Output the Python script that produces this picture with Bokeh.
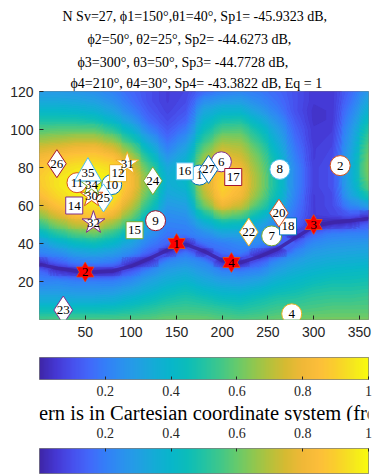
import numpy as np
from bokeh.plotting import figure
from bokeh.layouts import column
from bokeh.models import LinearColorMapper, Range1d, FixedTicker, Title
from bokeh.embed import file_html
from bokeh.resources import INLINE
from bokeh.core.properties import value

# ---------------- data ----------------
# normalised pattern: one list per phi column, values on theta rows 0,5,...,120
# (in each column the row nearest to the null curve sits on the null curve itself, at null_curve_theta)
pattern_phi = [0, 20, 40, 60, 80, 100, 120, 140, 160, 180, 200, 220, 240, 260, 280, 300, 320, 340, 360]
pattern_theta = [0, 5, 10, 15, 20, 25, 30, 35, 40, 45, 50, 55, 60, 65, 70, 75, 80, 85, 90, 95, 100, 105, 110, 115, 120]
null_curve_theta = [29, 27, 25.5, 25, 25.5, 28, 32, 36.5, 39.5, 36, 31, 30, 33, 37, 43, 49, 51, 52, 53]
gain_p000 = [0.55, 0.45, 0.35, 0.28, 0.21, 0.16, 0.00, 0.21, 0.27, 0.40, 0.53, 0.65, 0.76, 0.84, 0.88, 0.89, 0.87, 0.82, 0.75, 0.66, 0.57, 0.48, 0.40, 0.33, 0.28]
gain_p020 = [0.56, 0.45, 0.35, 0.28, 0.22, 0.00, 0.13, 0.24, 0.36, 0.50, 0.64, 0.76, 0.86, 0.92, 0.95, 0.95, 0.92, 0.86, 0.78, 0.68, 0.58, 0.48, 0.40, 0.33, 0.28]
gain_p040 = [0.56, 0.45, 0.35, 0.27, 0.20, 0.00, 0.19, 0.30, 0.42, 0.57, 0.72, 0.85, 0.93, 0.97, 0.99, 0.98, 0.95, 0.89, 0.81, 0.70, 0.58, 0.48, 0.39, 0.32, 0.27]
gain_p060 = [0.56, 0.45, 0.35, 0.27, 0.20, 0.00, 0.21, 0.32, 0.45, 0.60, 0.75, 0.88, 0.95, 0.99, 1.00, 0.99, 0.96, 0.90, 0.82, 0.70, 0.58, 0.46, 0.37, 0.30, 0.25]
gain_p080 = [0.56, 0.46, 0.36, 0.28, 0.20, 0.00, 0.19, 0.29, 0.40, 0.52, 0.66, 0.80, 0.90, 0.96, 0.98, 0.97, 0.93, 0.86, 0.76, 0.64, 0.51, 0.39, 0.31, 0.25, 0.21]
gain_p100 = [0.57, 0.48, 0.40, 0.32, 0.24, 0.13, 0.00, 0.23, 0.31, 0.40, 0.52, 0.63, 0.72, 0.79, 0.83, 0.83, 0.79, 0.71, 0.61, 0.49, 0.38, 0.28, 0.21, 0.17, 0.15]
gain_p120 = [0.58, 0.51, 0.44, 0.37, 0.31, 0.23, 0.00, 0.13, 0.20, 0.26, 0.32, 0.41, 0.50, 0.57, 0.61, 0.61, 0.56, 0.48, 0.39, 0.30, 0.21, 0.15, 0.12, 0.10, 0.10]
gain_p140 = [0.60, 0.54, 0.48, 0.42, 0.36, 0.30, 0.23, 0.00, 0.14, 0.18, 0.21, 0.24, 0.28, 0.32, 0.35, 0.36, 0.33, 0.27, 0.21, 0.16, 0.12, 0.09, 0.07, 0.06, 0.06]
gain_p160 = [0.60, 0.55, 0.50, 0.45, 0.39, 0.33, 0.26, 0.18, 0.00, 0.19, 0.22, 0.26, 0.30, 0.35, 0.39, 0.41, 0.40, 0.36, 0.31, 0.25, 0.19, 0.14, 0.11, 0.09, 0.08]
gain_p180 = [0.60, 0.54, 0.48, 0.41, 0.34, 0.28, 0.22, 0.00, 0.17, 0.24, 0.34, 0.47, 0.61, 0.69, 0.73, 0.74, 0.71, 0.66, 0.59, 0.51, 0.44, 0.38, 0.32, 0.24, 0.16]
gain_p200 = [0.58, 0.52, 0.45, 0.38, 0.30, 0.22, 0.00, 0.16, 0.20, 0.31, 0.44, 0.62, 0.80, 0.88, 0.91, 0.90, 0.86, 0.80, 0.73, 0.65, 0.56, 0.47, 0.38, 0.28, 0.20]
gain_p220 = [0.57, 0.50, 0.44, 0.37, 0.29, 0.20, 0.00, 0.19, 0.23, 0.31, 0.42, 0.58, 0.73, 0.81, 0.84, 0.83, 0.80, 0.75, 0.70, 0.64, 0.57, 0.48, 0.38, 0.29, 0.22]
gain_p240 = [0.58, 0.52, 0.47, 0.40, 0.32, 0.23, 0.13, 0.00, 0.23, 0.27, 0.33, 0.44, 0.56, 0.63, 0.66, 0.66, 0.64, 0.61, 0.57, 0.51, 0.45, 0.37, 0.29, 0.23, 0.19]
gain_p260 = [0.60, 0.55, 0.50, 0.44, 0.38, 0.31, 0.24, 0.00, 0.13, 0.18, 0.22, 0.29, 0.38, 0.44, 0.46, 0.46, 0.45, 0.42, 0.38, 0.34, 0.30, 0.25, 0.20, 0.17, 0.15]
gain_p280 = [0.61, 0.56, 0.51, 0.46, 0.41, 0.36, 0.30, 0.22, 0.13, 0.00, 0.15, 0.17, 0.19, 0.21, 0.22, 0.22, 0.22, 0.20, 0.18, 0.16, 0.14, 0.12, 0.10, 0.10, 0.10]
gain_p300 = [0.62, 0.57, 0.53, 0.49, 0.44, 0.39, 0.34, 0.29, 0.23, 0.15, 0.00, 0.06, 0.06, 0.06, 0.07, 0.07, 0.07, 0.06, 0.06, 0.05, 0.05, 0.04, 0.04, 0.05, 0.05]
gain_p320 = [0.62, 0.58, 0.54, 0.50, 0.46, 0.41, 0.36, 0.31, 0.26, 0.20, 0.00, 0.08, 0.09, 0.09, 0.10, 0.10, 0.10, 0.09, 0.08, 0.07, 0.06, 0.05, 0.05, 0.05, 0.05]
gain_p340 = [0.62, 0.58, 0.54, 0.50, 0.46, 0.42, 0.37, 0.32, 0.27, 0.21, 0.00, 0.12, 0.22, 0.30, 0.33, 0.34, 0.34, 0.32, 0.30, 0.28, 0.26, 0.23, 0.20, 0.17, 0.15]
gain_p360 = [0.62, 0.58, 0.55, 0.51, 0.47, 0.43, 0.38, 0.33, 0.28, 0.21, 0.13, 0.00, 0.30, 0.48, 0.58, 0.62, 0.63, 0.62, 0.59, 0.55, 0.50, 0.44, 0.38, 0.33, 0.28]
pattern_cols = [gain_p000, gain_p020, gain_p040, gain_p060, gain_p080, gain_p100, gain_p120, gain_p140,
                gain_p160, gain_p180, gain_p200, gain_p220, gain_p240, gain_p260, gain_p280, gain_p300,
                gain_p320, gain_p340, gain_p360]

# null directions (red hexagrams)
null_id = ["1", "2", "3", "4"]
null_phi = [150, 50, 300, 210]
null_theta = [40, 25, 50, 30]

# numbered steering vectors
circ_id = ["1", "2", "4", "6", "7", "8", "9", "10", "11"]
circ_phi = [175, 329, 276, 199, 254, 263, 127, 79, 41]
circ_theta = [76, 81, 3, 83, 44, 79, 52, 71, 72]

sq_id = ["12", "14", "15", "16", "17", "18"]
sq_phi = [86, 38, 104, 159, 212, 272]
sq_theta = [77, 60, 47, 78, 75, 49]

dia_id = ["20", "22", "23", "24", "25", "26", "27"]
dia_phi = [262, 229, 26, 124, 70, 19, 185]
dia_theta = [56, 46, 5, 73, 64, 82, 79]

star_id = ["30", "31", "32", "34"]
star_phi = [57, 96, 59, 57]
star_theta = [65, 82, 51, 71]

tri_id = ["35"]
tri_phi = [53]
tri_theta = [77]

x_ticks = [50, 100, 150, 200, 250, 300, 350]
y_ticks = [20, 40, 60, 80, 100, 120]
cb_ticks = [0.2, 0.4, 0.6, 0.8, 1.0]
cb_tick_labels = ["0.2", "0.4", "0.6", "0.8", "1"]

title_lines = [
    "N Sv=27, \u03d51=150\u00b0,\u03b81=40\u00b0, Sp1= -45.9323 dB,",
    "\u03d52=50\u00b0, \u03b82=25\u00b0, Sp2= -44.6273 dB,",
    "\u03d53=300\u00b0, \u03b83=50\u00b0, Sp3= -44.7728 dB,",
    "\u03d54=210\u00b0, \u03b84=30\u00b0, Sp4= -43.3822 dB, Eq = 1",
]
bottom_text = "Pattern is in Cartesian coordinate system (from 0 to 1)"

# ---------------- styling ----------------
MC = ["#0072BD", "#D95319", "#EDB120", "#7E2F8E", "#77AC30", "#4DBEEE", "#A2142F"]
circ_col = [MC[0], MC[1], MC[2], MC[3], MC[4], MC[5], MC[6], MC[0], MC[1]]
sq_col = [MC[2], MC[3], MC[4], MC[5], MC[6], MC[0]]
dia_col = [MC[1], MC[2], MC[3], MC[4], MC[5], MC[6], MC[0]]
star_col = [MC[1], MC[2], MC[3], MC[4]]
tri_col = [MC[5]]

anchors = [
    (0.00, (62, 38, 168)), (0.05, (69, 56, 212)), (0.10, (71, 80, 237)),
    (0.15, (66, 104, 250)), (0.20, (52, 127, 248)), (0.25, (43, 145, 238)),
    (0.30, (34, 160, 227)), (0.35, (20, 172, 214)), (0.40, (8, 182, 202)),
    (0.45, (12, 189, 185)), (0.50, (35, 195, 163)), (0.55, (64, 199, 138)),
    (0.60, (102, 202, 108)), (0.65, (142, 199, 80)), (0.70, (181, 193, 60)),
    (0.75, (215, 186, 50)), (0.80, (240, 184, 55)), (0.85, (253, 190, 58)),
    (0.90, (250, 206, 45)), (0.95, (245, 228, 32)), (1.00, (249, 251, 14)),
]
at = np.array([a[0] for a in anchors])
ac = np.array([a[1] for a in anchors], dtype=float)

def cmap(t):
    return "#%02x%02x%02x" % tuple(int(round(np.interp(t, at, ac[:, k]))) for k in range(3))

tt = np.linspace(0, 1, 256)
parula = [cmap(t) for t in tt]
mapper = LinearColorMapper(palette=parula, low=0, high=1)
NB = 64
levels = list(np.linspace(0, 1, NB + 1))
levels[0] = -0.01
levels[-1] = 1.01
band_colors = [cmap((i + 0.5) / NB) for i in range(NB)]

SERIF = "Liberation Serif"
SANS = "Liberation Sans"
AX = "#262626"
W = 375

# ---------------- main figure ----------------
H1 = 345
FL, FR, FT, FB = 39, 372, 91, 319
p = figure(width=W, height=H1, x_range=Range1d(0, 360), y_range=Range1d(0, 120),
           output_backend="svg", toolbar_location=None, title=None,
           min_border_left=FL, min_border_right=W - FR, min_border_top=FT, min_border_bottom=H1 - FB)
p.grid.visible = False
p.outline_line_color = AX
p.outline_line_width = 0.6

title_offsets = [23, 48, 38, 31]
title_standoffs = [6, 6, 6, 2]
for txt, off, so in reversed(list(zip(title_lines, title_offsets, title_standoffs))):
    p.add_layout(Title(text=txt, align="left", offset=off, standoff=so, text_font=SERIF,
                       text_font_size="14px", text_font_style="normal", text_color="black"), "above")

# pattern: regular image underneath (fills seams) + filled contours on the null-following grid
Z = np.array(pattern_cols, dtype=float).T
sx = pattern_phi[1] - pattern_phi[0]
sy = pattern_theta[1] - pattern_theta[0]
p.image(image=[Z], x=pattern_phi[0] - sx / 2, y=pattern_theta[0] - sy / 2,
        dw=pattern_phi[-1] - pattern_phi[0] + sx, dh=pattern_theta[-1] - pattern_theta[0] + sy,
        color_mapper=mapper)
Y = np.tile(np.array(pattern_theta, dtype=float)[:, None], (1, len(pattern_phi)))
for j, tn in enumerate(null_curve_theta):
    k = int(round(tn / sy))
    Y[k, j] = tn
X = np.tile(np.array(pattern_phi, dtype=float)[None, :], (len(pattern_theta), 1))
p.contour(x=X, y=Y, z=Z, levels=levels, fill_color=band_colors, line_color=None)

# the null curve itself (thin dark line)
p.line(pattern_phi, null_curve_theta, line_color=cmap(0.0), line_width=3.5, line_alpha=0.9,
       line_join="round")

p.scatter(circ_phi, circ_theta, marker="circle", size=20, fill_color="white", line_color=circ_col, line_width=1)
p.scatter(sq_phi, sq_theta, marker="square", size=17, fill_color="white", line_color=sq_col, line_width=1)
p.scatter(dia_phi, dia_theta, marker="diamond", size=28, fill_color="white", line_color=dia_col, line_width=1)
p.scatter(star_phi, star_theta, marker="star", size=24, fill_color="white", line_color=star_col, line_width=1)
p.scatter(tri_phi, tri_theta, marker="triangle", size=27, fill_color="white", line_color=tri_col, line_width=1)

for mk in ["triangle", "inverted_triangle"]:
    p.scatter(null_phi, null_theta, marker=mk, size=17, fill_color="#ff0000", line_color="#d95319", line_width=1)
for mk in ["triangle", "inverted_triangle"]:
    p.scatter(null_phi, null_theta, marker=mk, size=16, fill_color="#ff0000", line_color=None)

for ids, xs, ys in [(circ_id, circ_phi, circ_theta), (sq_id, sq_phi, sq_theta), (dia_id, dia_phi, dia_theta),
                    (star_id, star_phi, star_theta), (tri_id, tri_phi, tri_theta), (null_id, null_phi, null_theta)]:
    p.text(x=xs, y=ys, text=ids, text_font=value(SERIF), text_font_size="13px",
           text_align="center", text_baseline="middle", text_color="black")

for ax in [p.xaxis[0], p.yaxis[0]]:
    ax.axis_line_color = None
    ax.major_tick_in = 4
    ax.major_tick_out = 0
    ax.major_tick_line_color = AX
    ax.minor_tick_line_color = None
    ax.major_label_text_font = SANS
    ax.major_label_text_font_size = "14px"
    ax.major_label_text_color = AX
p.xaxis.ticker = FixedTicker(ticks=x_ticks)
p.yaxis.ticker = FixedTicker(ticks=y_ticks)
p.xaxis.major_label_standoff = 7
p.yaxis.major_label_standoff = 6

grad = np.array([tt])

# ---------------- colorbar 1 ----------------
T2, H2 = 345, 56
C1L, C1R, C1T, C1B = 39, 372, 357, 379
f2 = figure(width=W, height=H2, x_range=Range1d(0, 1), y_range=Range1d(0, 1),
            output_backend="svg", toolbar_location=None, title=None,
            min_border_left=C1L, min_border_right=W - C1R, min_border_top=C1T - T2,
            min_border_bottom=T2 + H2 - C1B)
f2.image(image=[grad], x=0, y=0, dw=1, dh=1, color_mapper=mapper)

# ---------------- big caption ----------------
T4, H4 = T2 + H2, 20
f4 = figure(width=W, height=H4, x_range=Range1d(0, W), y_range=Range1d(H4, 0),
            output_backend="svg", toolbar_location=None, title=None,
            min_border_left=0, min_border_right=0, min_border_top=0, min_border_bottom=0)
f4.axis.visible = False
f4.grid.visible = False
f4.outline_line_color = None
f4.text(x=[-37], y=[412.5 - T4], text=[bottom_text], text_font=value(SERIF), text_font_size="20.5px",
        text_align="left", text_baseline="middle", text_color="black")

# ---------------- colorbar 2 ----------------
T3 = T4 + H4
H3 = 475 - T3
C2L, C2R, C2T, C2B = 16, 368, 448, 473
f3 = figure(width=W, height=H3, x_range=Range1d(0, 1), y_range=Range1d(0, 1),
            output_backend="svg", toolbar_location=None, title=None, x_axis_location="above",
            min_border_left=C2L, min_border_right=W - C2R, min_border_top=C2T - T3,
            min_border_bottom=475 - C2B)
f3.image(image=[grad], x=0, y=0, dw=1, dh=1, color_mapper=mapper)

for f in [f2, f3]:
    f.grid.visible = False
    f.yaxis.visible = False
    f.outline_line_color = AX
    f.outline_line_width = 0.6
    f.xaxis.ticker = FixedTicker(ticks=cb_ticks)
    f.xaxis.major_label_overrides = {t: s for t, s in zip(cb_ticks, cb_tick_labels)}
    ax = f.xaxis[0]
    ax.axis_line_color = None
    ax.major_tick_in = 3
    ax.major_tick_out = 0
    ax.major_tick_line_color = AX
    ax.minor_tick_line_color = None
    ax.major_label_text_font = SERIF
    ax.major_label_text_font_size = "14px"
    ax.major_label_text_color = AX
f2.xaxis.major_label_standoff = 6
f3.xaxis.major_label_standoff = 11

layout = column(p, f2, f4, f3, spacing=0)
open("out.html", "w").write(file_html(layout, INLINE))
